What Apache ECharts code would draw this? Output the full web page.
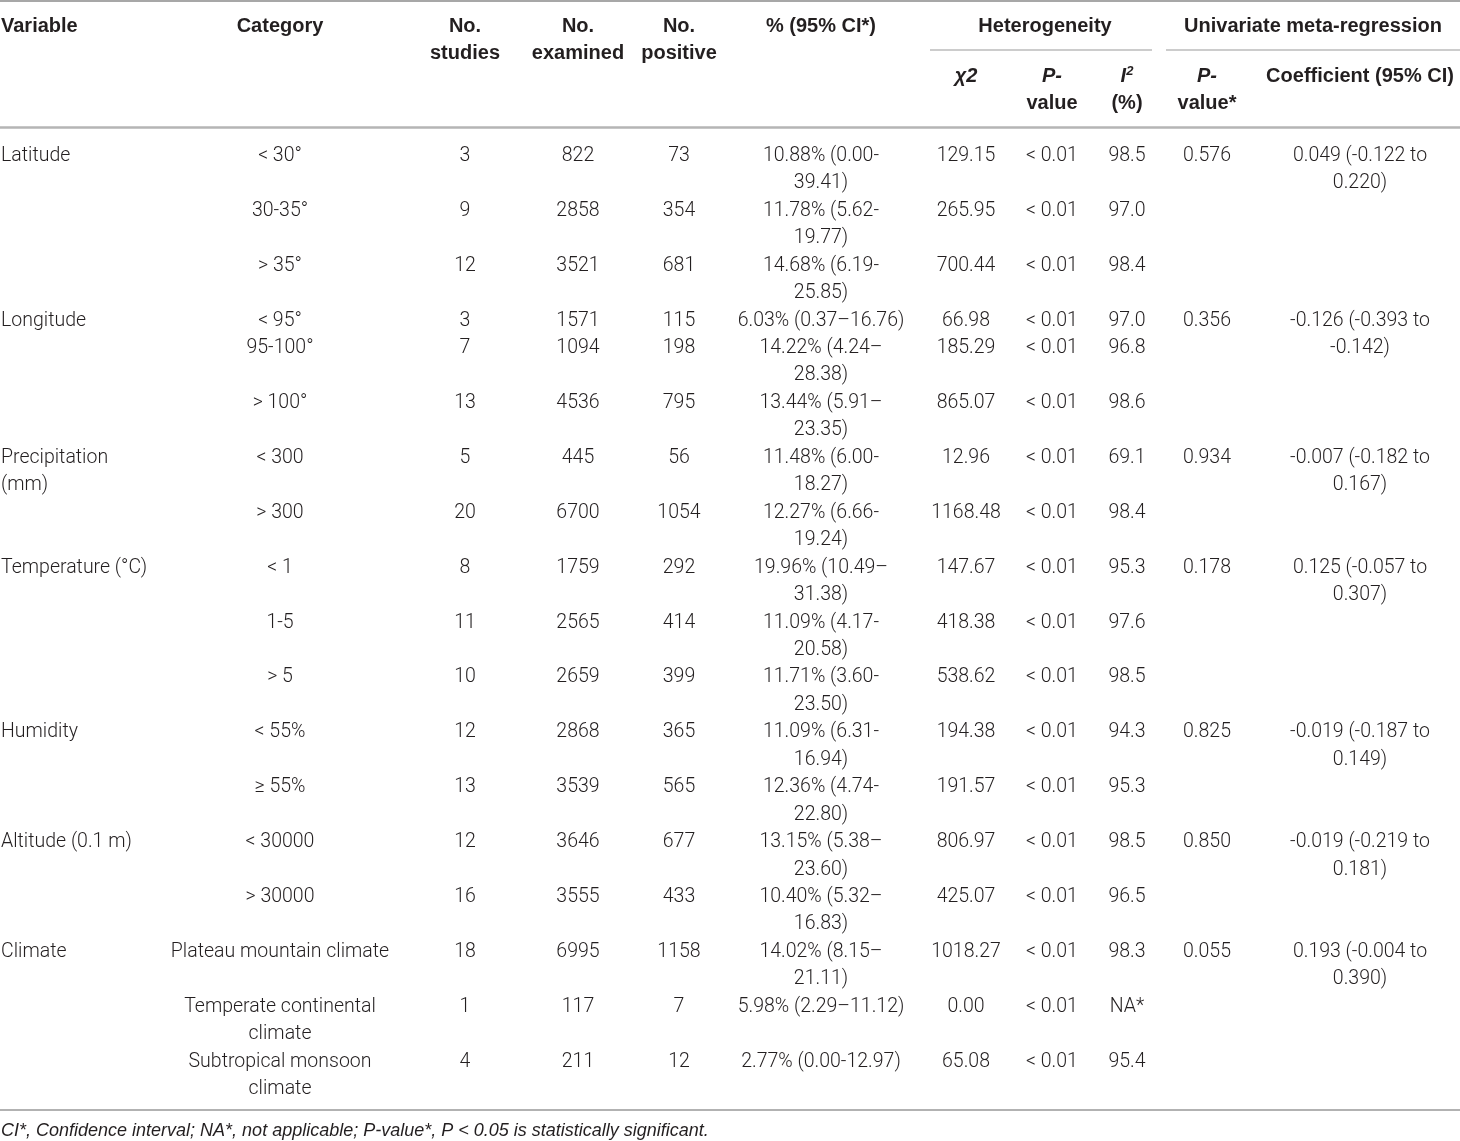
<!DOCTYPE html>
<html>
<head>
<meta charset="utf-8">
<script src="https://cdn.jsdelivr.net/npm/echarts@6/dist/echarts.min.js"></script>
<style>
html,body{margin:0;padding:0;background:#fff}
#main{width:1460px;height:1141px}
</style>
</head>
<body>
<div id="main"></div>
<script>
// ---- table data ----
var variables = ['Latitude', 'Longitude', 'Precipitation\n(mm)', 'Temperature (°C)', 'Humidity', 'Altitude (0.1 m)', 'Climate'];
var groupOf = [0, 0, 0, 1, 1, 1, 2, 2, 3, 3, 3, 4, 4, 5, 5, 6, 6, 6];
var categories = ['< 30°', '30-35°', '> 35°', '< 95°', '95-100°', '> 100°', '< 300', '> 300', '< 1', '1-5', '> 5',
    '< 55%', '≥ 55%', '< 30000', '> 30000', 'Plateau mountain climate', 'Temperate continental\nclimate', 'Subtropical monsoon\nclimate'];
var studies = [3, 9, 12, 3, 7, 13, 5, 20, 8, 11, 10, 12, 13, 12, 16, 18, 1, 4];
var examined = [822, 2858, 3521, 1571, 1094, 4536, 445, 6700, 1759, 2565, 2659, 2868, 3539, 3646, 3555, 6995, 117, 211];
var positive = [73, 354, 681, 115, 198, 795, 56, 1054, 292, 414, 399, 365, 565, 677, 433, 1158, 7, 12];
var pct = ['10.88% (0.00-\n39.41)', '11.78% (5.62-\n19.77)', '14.68% (6.19-\n25.85)', '6.03% (0.37–16.76)',
    '14.22% (4.24–\n28.38)', '13.44% (5.91–\n23.35)', '11.48% (6.00-\n18.27)', '12.27% (6.66-\n19.24)',
    '19.96% (10.49–\n31.38)', '11.09% (4.17-\n20.58)', '11.71% (3.60-\n23.50)', '11.09% (6.31-\n16.94)',
    '12.36% (4.74-\n22.80)', '13.15% (5.38–\n23.60)', '10.40% (5.32–\n16.83)', '14.02% (8.15–\n21.11)',
    '5.98% (2.29–11.12)', '2.77% (0.00-12.97)'];
var chi2 = ['129.15', '265.95', '700.44', '66.98', '185.29', '865.07', '12.96', '1168.48', '147.67', '418.38',
    '538.62', '194.38', '191.57', '806.97', '425.07', '1018.27', '0.00', '65.08'];
var hetP = ['< 0.01', '< 0.01', '< 0.01', '< 0.01', '< 0.01', '< 0.01', '< 0.01', '< 0.01', '< 0.01', '< 0.01',
    '< 0.01', '< 0.01', '< 0.01', '< 0.01', '< 0.01', '< 0.01', '< 0.01', '< 0.01'];
var i2 = ['98.5', '97.0', '98.4', '97.0', '96.8', '98.6', '69.1', '98.4', '95.3', '97.6', '98.5', '94.3', '95.3',
    '98.5', '96.5', '98.3', 'NA*', '95.4'];
var metaP = ['0.576', '0.356', '0.934', '0.178', '0.825', '0.850', '0.055'];
var coef = ['0.049 (-0.122 to\n0.220)', '-0.126 (-0.393 to\n-0.142)', '-0.007 (-0.182 to\n0.167)', '0.125 (-0.057 to\n0.307)',
    '-0.019 (-0.187 to\n0.149)', '-0.019 (-0.219 to\n0.181)', '0.193 (-0.004 to\n0.390)'];
var footnote = 'CI*, Confidence interval; NA*, not applicable; P-value*, P < 0.05 is statistically significant.';

// ---- layout ----
var W = 1460, H = 1141;
var colX = [1, 280, 465, 578, 679, 821, 966, 1052, 1127, 1207, 1360];
var firstLineY = 156, lineH = 27.45, headLineH = 27;
var textColor = '#231f20';
var bodyFont = '300 19.5px Roboto';
var headFont = 'bold 20px "Liberation Sans"';

function nLines(s) { return String(s).split('\n').length; }

// each row is as tall as its tallest per-row cell
var rowLine = [], cur = 0;
for (var i = 0; i < categories.length; i++) {
    rowLine.push(cur);
    cur += Math.max(nLines(categories[i]), nLines(pct[i]));
}

var cells = [];
function addCell(col, y, text, opt) {
    opt = opt || {};
    cells.push({ x: colX[col], y: y, text: String(text), align: col === 0 ? 'left' : 'center',
        font: opt.font || bodyFont, lh: opt.lh || lineH, rich: opt.rich });
}

var seenGroup = {};
for (i = 0; i < categories.length; i++) {
    var y = firstLineY + rowLine[i] * lineH;
    var g = groupOf[i];
    if (!seenGroup[g]) {
        seenGroup[g] = true;
        addCell(0, y, variables[g]);
        addCell(9, y, metaP[g]);
        addCell(10, y, coef[g]);
    }
    addCell(1, y, categories[i]);
    addCell(2, y, studies[i]);
    addCell(3, y, examined[i]);
    addCell(4, y, positive[i]);
    addCell(5, y, pct[i]);
    addCell(6, y, chi2[i]);
    addCell(7, y, hetP[i]);
    addCell(8, y, i2[i]);
}

// header
var hRich = {
    b: { font: headFont, fill: textColor, lineHeight: headLineH },
    it: { font: 'italic bold 20px "Liberation Sans"', fill: textColor, lineHeight: headLineH },
    sup: { font: 'italic bold 13px "Liberation Sans"', fill: textColor, lineHeight: headLineH, padding: [0, 0, 10, 0] }
};
var h = { font: headFont, lh: headLineH };
addCell(0, 26, 'Variable', h);
addCell(1, 26, 'Category', h);
addCell(2, 26, 'No.\nstudies', h);
addCell(3, 26, 'No.\nexamined', h);
addCell(4, 26, 'No.\npositive', h);
addCell(5, 26, '% (95% CI*)', h);
cells.push({ x: 1045, y: 26, text: 'Heterogeneity', align: 'center', font: headFont, lh: headLineH });
cells.push({ x: 1313, y: 26, text: 'Univariate meta-regression', align: 'center', font: headFont, lh: headLineH });
addCell(6, 76, '{it|χ2}', { font: headFont, lh: headLineH, rich: hRich });
addCell(7, 76, '{it|P-}\n{b|value}', { font: headFont, lh: headLineH, rich: hRich });
addCell(8, 76, '{it|I}{sup|2}\n{b|(%)}', { font: headFont, lh: headLineH, rich: hRich });
addCell(9, 76, '{it|P-}\n{b|value*}', { font: headFont, lh: headLineH, rich: hRich });
addCell(10, 76, 'Coefficient (95% CI)', h);
cells.push({ x: 1, y: 1131, text: footnote, align: 'left', font: 'italic 18px "Liberation Sans"', lh: 20 });

// rules: [x1, x2, y, width, colour]
var rules = [
    [0, W, 1, 1.5, '#8a8a8a'],
    [930, 1152, 50, 1.2, '#999999'],
    [1166, W, 50, 1.2, '#999999'],
    [0, W, 127.5, 2.5, '#b5b5b5'],
    [0, W, 1110, 1.5, '#999999']
];

var chart = echarts.init(document.getElementById('main'));
chart.setOption({
    animation: false,
    backgroundColor: '#fff',
    grid: { left: 0, right: 0, top: 0, bottom: 0 },
    xAxis: { type: 'value', min: 0, max: W, show: false },
    yAxis: { type: 'value', min: 0, max: H, inverse: true, show: false },
    series: [
        {
            type: 'custom',
            data: rules.map(function (r, k) { return [r[0], r[1], r[2], k]; }),
            renderItem: function (params, api) {
                var r = rules[api.value(3)];
                var a = api.coord([api.value(0), api.value(2)]);
                var b = api.coord([api.value(1), api.value(2)]);
                return { type: 'line', shape: { x1: a[0], y1: a[1], x2: b[0], y2: b[1] },
                    style: { stroke: r[4], lineWidth: r[3] } };
            }
        },
        {
            type: 'custom',
            data: cells.map(function (c, k) { return [c.x, c.y, k]; }),
            renderItem: function (params, api) {
                var c = cells[api.value(2)];
                var p = api.coord([api.value(0), api.value(1)]);
                var st = { text: c.text, fill: textColor, font: c.font, align: c.align,
                    verticalAlign: 'top', lineHeight: c.lh };
                if (c.rich) st.rich = c.rich;
                return { type: 'text', x: p[0], y: p[1] - c.lh / 2, style: st };
            }
        }
    ]
});
</script>
</body>
</html>
